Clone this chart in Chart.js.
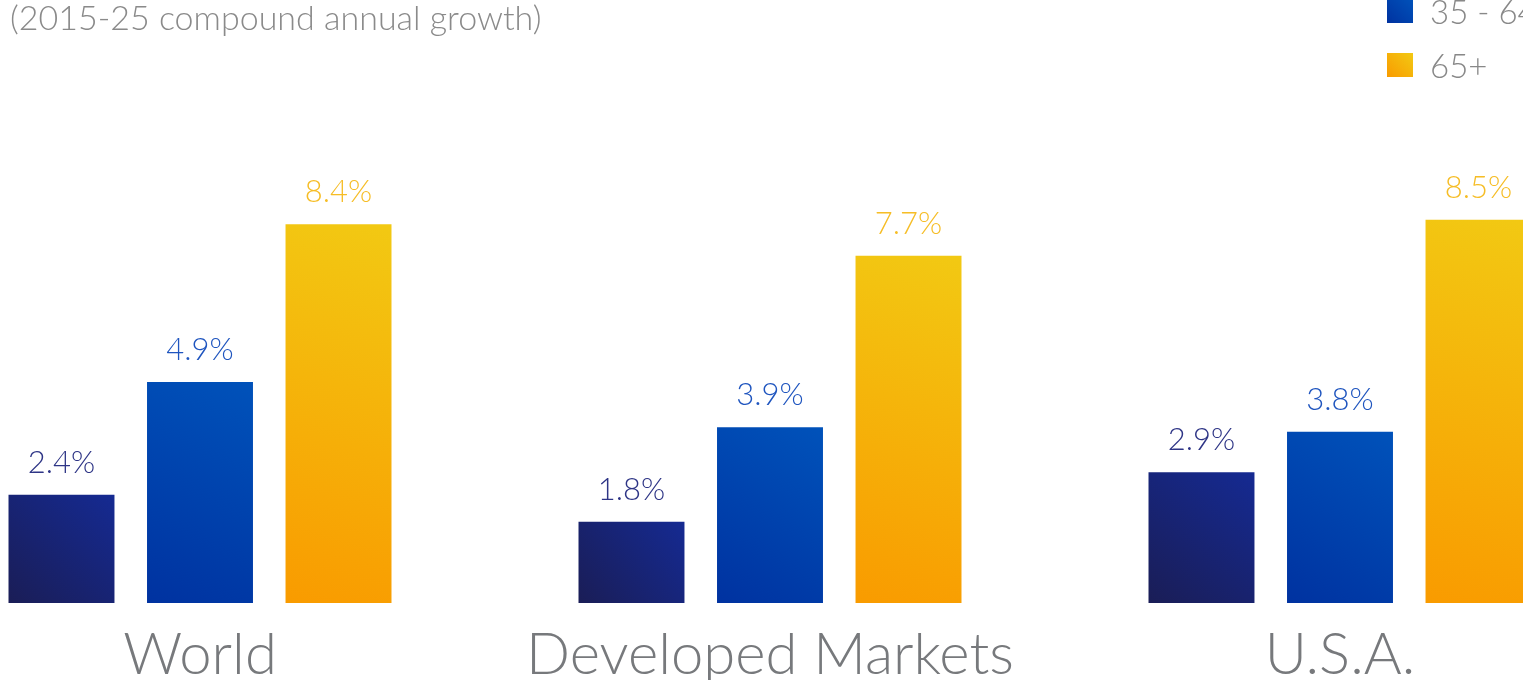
<!DOCTYPE html>
<html>
<head>
<meta charset="utf-8">
<script src="https://cdn.jsdelivr.net/npm/chart.js@4.4.1/dist/chart.umd.min.js"></script>
<style>
  html, body { margin: 0; padding: 0; background: #fff; overflow: hidden; }
  #wrap { position: relative; width: 1523px; height: 680px; overflow: hidden; }
  #chart-box { position: absolute; left: -85px; top: 0; width: 1710px; height: 680px; }
  .subtitle {
    position: absolute; left: 10px; top: -4px;
    font-family: Lato, sans-serif; font-weight: 300; font-size: 34px; color: #8a8a8a;
    white-space: nowrap;
  }
  #legend { position: absolute; left: 1387px; top: -70px; }
  .legend-item { display: flex; align-items: center; height: 54px; }
  .legend-swatch { width: 26px; height: 24px; margin-right: 17px; }
  .legend-label { font-family: Lato, sans-serif; font-weight: 300; font-size: 33px; color: #888; white-space: nowrap; }
</style>
</head>
<body>
<div id="wrap">
  <div id="chart-box"><canvas id="chart-growth"></canvas></div>
  <div class="subtitle">(2015-25 compound annual growth)</div>
  <div id="legend"></div>
</div>
<script>
// Spending growth by age group
const regions = ['World', 'Developed Markets', 'U.S.A.'];
const seriesNames = ['Under 35', '35 - 64', '65+'];
const under35 = [2.4, 1.8, 2.9];
const age35to64 = [4.9, 3.9, 3.8];
const age65plus = [8.4, 7.7, 8.5];

// bottom colour, top colour, label colour
const palette = [
    ['#1a1d56', '#152a92', '#2e3586'],
    ['#0032a0', '#0052ba', '#1f55bf'],
    ['#f99b00', '#f2c913', '#f6bd26']
];

// each bar gets its own gradient, dark at bottom-left, light at top-right
function barGradient(idx) {
    return (ctx) => {
        const chart = ctx.chart;
        if (!chart.chartArea || ctx.type !== 'data') return palette[idx][0];
        const xs = chart.scales.x, ys = chart.scales.y;
        const cx = xs.getPixelForValue(ctx.dataIndex) + (idx - 1) * 138.5;
        const g = chart.ctx.createLinearGradient(cx - 53, ys.getPixelForValue(0), cx + 53, ys.getPixelForValue(ctx.raw));
        g.addColorStop(0, palette[idx][0]);
        g.addColorStop(1, palette[idx][1]);
        return g;
    };
}

// legend (first entry sits above the visible edge)
document.getElementById('legend').innerHTML = seriesNames.map((name, i) => `
  <div class="legend-item">
    <div class="legend-swatch" style="background: linear-gradient(45deg, ${palette[i][0]}, ${palette[i][1]});"></div>
    <div class="legend-label">${name}</div>
  </div>
`).join('');

const valueLabels = {
    id: 'valueLabels',
    afterDatasetsDraw(chart) {
        const ctx = chart.ctx;
        ctx.save();
        ctx.font = '300 31px Lato, sans-serif';
        ctx.textAlign = 'center';
        ctx.textBaseline = 'alphabetic';
        chart.data.datasets.forEach((ds, i) => {
            ctx.fillStyle = palette[i][2];
            chart.getDatasetMeta(i).data.forEach((bar, j) => {
                ctx.fillText(ds.data[j].toFixed(1) + '%', bar.x, bar.y - 22);
            });
        });
        ctx.restore();
    }
};

new Chart(document.getElementById('chart-growth'), {
    type: 'bar',
    data: {
        labels: regions,
        datasets: [
            { label: seriesNames[0], data: under35, backgroundColor: barGradient(0) },
            { label: seriesNames[1], data: age35to64, backgroundColor: barGradient(1) },
            { label: seriesNames[2], data: age65plus, backgroundColor: barGradient(2) }
        ]
    },
    options: {
        responsive: true,
        maintainAspectRatio: false,
        animation: false,
        categoryPercentage: 0.729,
        barPercentage: 0.765,
        layout: { padding: { top: 62, left: 0, right: 0, bottom: 0 } },
        plugins: { legend: { display: false }, tooltip: { enabled: false } },
        scales: {
            x: {
                grid: { display: false, drawTicks: false },
                border: { display: false },
                ticks: {
                    color: '#77797c',
                    padding: 17,
                    font: { family: 'Lato, sans-serif', weight: '300', size: 58 }
                },
                afterFit: (scale) => { scale.height = 77; }
            },
            y: { display: false, min: 0, max: 12 }
        }
    },
    plugins: [valueLabels]
});
</script>
</body>
</html>
